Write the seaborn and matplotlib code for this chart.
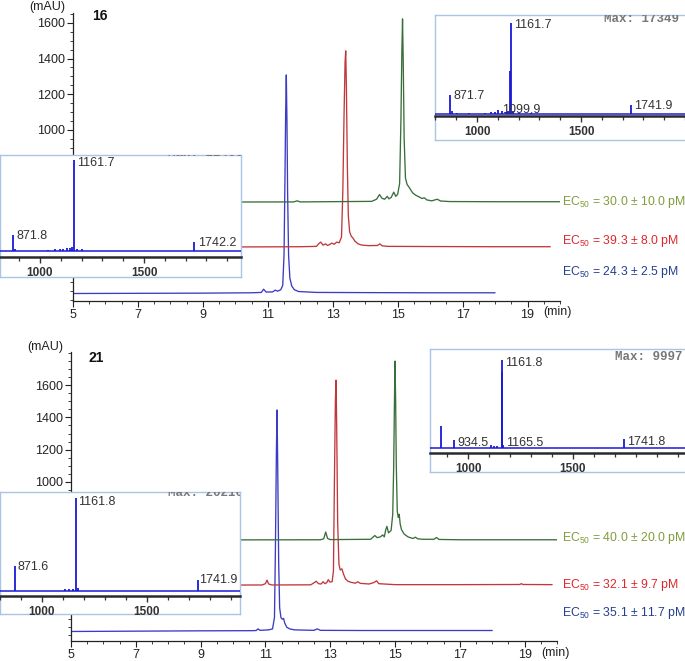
import matplotlib
matplotlib.use('Agg')
import matplotlib.pyplot as plt
import seaborn as sns
from matplotlib.ticker import MultipleLocator, FixedLocator, FuncFormatter

sns.set_theme(style='ticks')
plt.rcParams['font.family'] = ['Liberation Sans', 'DejaVu Sans']
plt.rcParams['mathtext.default'] = 'regular'

W, H = 685, 661

# ---------------- data: HPLC traces (time in min, absorbance in mAU) ----------------
# Panel 16
t16_blue = [5.0, 7.0, 9.0, 10.5, 10.8, 10.87, 10.95, 11.15, 11.23, 11.3, 11.4, 11.46, 11.5, 11.53, 11.55,
            11.57, 11.59, 11.61, 11.64, 11.68, 11.74, 11.82, 11.95, 12.5, 14.0, 16.0, 18.0]
a16_blue = [84, 85, 86, 88, 90, 108, 92, 93, 103, 97, 105, 130, 300, 750, 1100,
            1308, 1050, 650, 300, 170, 125, 105, 95, 90, 89, 88, 88]
t16_red = [5.0, 9.0, 12.0, 12.5, 12.58, 12.63, 12.7, 12.78, 12.84, 12.9, 12.97, 13.05, 13.12, 13.2, 13.27,
           13.31, 13.35, 13.38, 13.40, 13.42, 13.45, 13.48, 13.52, 13.57, 13.62, 13.68, 13.78, 13.9, 14.1,
           14.38, 14.45, 14.52, 14.7, 16.0, 18.0, 19.7]
a16_red = [343, 344, 346, 348, 365, 372, 355, 362, 353, 358, 366, 360, 372, 368, 400,
           650, 1100, 1380, 1443, 1250, 800, 520, 430, 405, 395, 378, 362, 355, 352,
           353, 362, 351, 348, 347, 346, 346]
t16_green = [5.0, 9.0, 11.8, 11.9, 12.0, 14.2, 14.35, 14.44, 14.52, 14.6, 14.68, 14.73, 14.8, 14.88, 14.94,
             15.0, 15.06, 15.1, 15.13, 15.15, 15.17, 15.2, 15.24, 15.29, 15.34, 15.4, 15.46, 15.55, 15.65,
             15.75, 15.82, 15.9, 16.05, 16.22, 16.32, 16.6, 18.0, 20.0]
a16_green = [596, 596, 597, 603, 597, 600, 612, 638, 617, 612, 628, 614, 622, 652, 628,
             640, 700, 1050, 1450, 1622, 1400, 950, 730, 695, 682, 665, 648, 635, 626,
             616, 620, 608, 603, 612, 602, 599, 598, 598]

# Panel 21
t21_blue = [5.0, 7.0, 9.0, 10.6, 10.72, 10.77, 10.84, 11.1, 11.22, 11.28, 11.31, 11.34, 11.36, 11.38, 11.41,
            11.44, 11.48, 11.52, 11.56, 11.6, 11.66, 11.75, 11.9, 12.5, 12.6, 12.7, 14.0, 16.0, 18.0]
a21_blue = [74, 76, 78, 79, 80, 90, 81, 84, 90, 160, 600, 1200, 1446, 1100, 500,
            220, 160, 150, 155, 125, 100, 90, 84, 81, 90, 81, 80, 80, 80]
t21_red = [5.0, 9.0, 10.9, 11.0, 11.05, 11.1, 11.2, 12.4, 12.52, 12.57, 12.64, 12.72, 12.78, 12.84, 12.9,
           12.94, 12.99, 13.06, 13.1, 13.13, 13.16, 13.18, 13.2, 13.23, 13.27, 13.31, 13.36, 13.41, 13.47,
           13.55, 13.65, 13.78, 13.85, 13.93, 14.2, 14.36, 14.43, 14.5, 15.0, 17.0, 18.85, 18.9, 18.95, 19.85]
a21_red = [360, 361, 362, 370, 392, 368, 362, 363, 378, 385, 370, 368, 382, 370, 378,
           395, 380, 382, 450, 1000, 1500, 1631, 1350, 750, 490, 455, 462, 430, 400,
           385, 378, 373, 382, 372, 368, 378, 388, 370, 364, 364, 365, 370, 365, 364]
t21_green = [5.0, 9.0, 12.7, 12.8, 12.86, 12.92, 13.0, 14.25, 14.33, 14.38, 14.45, 14.55, 14.62, 14.67, 14.71,
             14.75, 14.8, 14.88, 14.93, 14.96, 14.98, 15.0, 15.02, 15.04, 15.07, 15.1, 15.13, 15.16, 15.2,
             15.28, 15.4, 15.55, 15.63, 15.7, 15.85, 16.2, 16.28, 16.36, 17.0, 20.0]
a21_green = [640, 641, 642, 648, 690, 650, 643, 645, 660, 668, 655, 660, 672, 660, 700,
             725, 685, 700, 800, 1100, 1450, 1749, 1500, 1100, 820, 780, 800, 740, 705,
             678, 660, 650, 658, 648, 645, 645, 656, 644, 642, 642]

ec50_16 = ["EC$_{50}$ = 30.0 ± 10.0 pM", "EC$_{50}$ = 39.3 ± 8.0 pM", "EC$_{50}$ = 24.3 ± 2.5 pM"]
ec50_21 = ["EC$_{50}$ = 40.0 ± 20.0 pM", "EC$_{50}$ = 32.1 ± 9.7 pM", "EC$_{50}$ = 35.1 ± 11.7 pM"]

# ---------------- data: MS insets (m/z, relative intensity %) ----------------
ms16a_mz = [871.7, 880, 905, 960, 1040, 1065, 1085, 1099.9, 1120, 1140, 1150, 1160.9, 1161.7, 1172, 1200, 1260, 1741.9]
ms16a_int = [21, 3, 1, 1, 1.5, 2, 2.5, 4.4, 3, 2.5, 3, 47, 100, 3, 1.5, 1, 10]
ms16a_lab = ["871.7", "1099.9", "1161.7", "1741.9"]
ms16a_max = "Max: 17349"

ms16b_mz = [871.8, 878, 1040, 1070, 1095, 1110, 1130, 1145, 1155, 1161.7, 1180, 1200, 1742.2]
ms16b_int = [17.6, 2, 1.5, 2, 2.5, 2.5, 3.5, 3, 4, 100, 2.5, 2, 10]
ms16b_lab = ["871.8", "1161.7", "1742.2"]
ms16b_max = "Max: 12406"

ms21a_mz = [871.5, 934.5, 1110, 1125, 1140, 1161.0, 1161.8, 1165.5, 1741.8]
ms21a_int = [25, 9, 3, 2, 2.5, 86, 100, 3, 10]
ms21a_lab = ["934.5", "1161.8", "1165.5", "1741.8"]
ms21a_max = "Max: 9997"

ms21b_mz = [871.6, 1110, 1130, 1150, 1161.8, 1170, 1741.9]
ms21b_int = [27, 2, 2.5, 2, 100, 3, 12]
ms21b_lab = ["871.6", "1161.8", "1741.9"]
ms21b_max = "Max: 20210"

# ---------------- styling ----------------
C_BLUE, C_RED, C_GREEN = '#3b3bc4', '#c0383c', '#3a6e3a'
T_BLUE, T_RED, T_GREEN = '#22408f', '#e0262b', '#7f9d3a'
MS_BLUE = '#1a1ad8'
FRAME = '#aac4e6'


def rect(l, t, r, b):
    return [l / W, 1 - b / H, (r - l) / W, (b - t) / H]


fig = plt.figure(figsize=(W / 100, H / 100), dpi=100)


def ylab(v, pos):
    return f"{int(round(v))}" if 1000 <= v <= 1600 else ""


def main_panel(pos, ylim, traces):
    ax = fig.add_axes(rect(*pos), zorder=1)
    ax.patch.set_alpha(0)
    for t, a, c in traces:
        sns.lineplot(x=t, y=a, ax=ax, color=c, linewidth=0.95, estimator=None, sort=False, legend=False)
    ax.set_xlim(5, 20)
    ax.set_ylim(*ylim)
    ax.set_xlabel('')
    ax.set_ylabel('')
    ax.spines[['top', 'right']].set_visible(False)
    for s in ('left', 'bottom'):
        ax.spines[s].set_linewidth(0.9)
        ax.spines[s].set_color('#222222')
    ax.set_xticks(list(range(5, 20, 2)))
    ax.xaxis.set_minor_locator(MultipleLocator(0.5))
    ax.yaxis.set_major_locator(FixedLocator(list(range(0, 1800, 200))))
    ax.yaxis.set_major_formatter(FuncFormatter(ylab))
    ax.yaxis.set_minor_locator(MultipleLocator(50))
    ax.tick_params(which='major', length=4, width=0.8, color='#222222', labelsize=9,
                   labelcolor='#222222', pad=2.0, direction='out')
    ax.tick_params(axis='x', which='major', pad=1.5)
    ax.tick_params(which='minor', length=2, width=0.6, color='#222222', direction='out')
    return ax


ax16 = main_panel((73, 13, 560, 301), (42, 1655),
                  [(t16_blue, a16_blue, C_BLUE), (t16_red, a16_red, C_RED), (t16_green, a16_green, C_GREEN)])
ax21 = main_panel((71, 352, 557, 641), (15, 1805),
                  [(t21_blue, a21_blue, C_BLUE), (t21_red, a21_red, C_RED), (t21_green, a21_green, C_GREEN)])


def ftext(x, y, s, **kw):
    return fig.text(x / W, 1 - y / H, s, **kw)


ftext(65, 7, "(mAU)", ha='right', va='center', fontsize=9, color='#222222')
ftext(63, 347, "(mAU)", ha='right', va='center', fontsize=9, color='#222222')
ftext(100, 16, "16", ha='center', va='center', fontsize=10, fontweight='bold', color='#111111')
ftext(96, 358, "21", ha='center', va='center', fontsize=10, fontweight='bold', color='#111111')
ftext(543, 312, "(min)", ha='left', va='center', fontsize=9, color='#222222')
ftext(541, 653, "(min)", ha='left', va='center', fontsize=9, color='#222222')

for (y, s, c) in zip([202, 241, 272], ec50_16, [T_GREEN, T_RED, T_BLUE]):
    ftext(562, y, s, ha='left', va='center', fontsize=8.8, color=c)
for (y, s, c) in zip([538, 585, 613], ec50_21, [T_GREEN, T_RED, T_BLUE]):
    ftext(562, y, s, ha='left', va='center', fontsize=8.8, color=c)


def ms_inset(frame, inner, xlim, ylim, mz, inten, labels, label_pos, maxtext, max_pos):
    fax = fig.add_axes(rect(*frame), zorder=5)
    fax.set_facecolor('white')
    fax.set_xticks([])
    fax.set_yticks([])
    for sp in fax.spines.values():
        sp.set_color(FRAME)
        sp.set_linewidth(1.0)
    iax = fig.add_axes(rect(*inner), zorder=6)
    iax.patch.set_alpha(0)
    iax.axhline(0, color=MS_BLUE, lw=1.1)
    iax.vlines(mz, 0, inten, color=MS_BLUE, lw=1.3)
    iax.set_xlim(*xlim)
    iax.set_ylim(*ylim)
    for s in ('top', 'right', 'left'):
        iax.spines[s].set_visible(False)
    iax.spines['bottom'].set_color('#2a2a2a')
    iax.spines['bottom'].set_linewidth(1.8)
    iax.set_yticks([])
    iax.xaxis.set_major_locator(FixedLocator([1000, 1500]))
    iax.xaxis.set_minor_locator(MultipleLocator(100))
    iax.tick_params(which='major', length=4, width=1, color='#333333', pad=3.5,
                    labelsize=8.5, labelcolor='#333333', direction='out')
    iax.tick_params(which='minor', length=3, width=0.9, color='#333333', direction='out')
    for lab in iax.get_xticklabels():
        lab.set_fontweight('bold')
    for s, (x, y) in zip(labels, label_pos):
        iax.text(x, y, s, ha='left', va='center', fontsize=9, color='#333333')
    iax.text(max_pos[0], max_pos[1], maxtext, ha='left', va='center', fontsize=9,
             family=['Liberation Mono', 'DejaVu Sans Mono'], fontweight='bold', color='#777777', clip_on=True)
    return iax


# panel 16, upper-right inset
ms_inset((435, 15, 700, 140), (435, 15, 700, 116), (798, 2072), (-2.2, 108.8),
         ms16a_mz, ms16a_int, ms16a_lab,
         [(885, 20), (1120, 4.4), (1178, 98), (1755, 8.8)], ms16a_max, (1610, 104))
# panel 16, left inset
ms_inset((0, 155, 241, 277), (0, 155, 241, 257), (808, 1966), (-6.6, 105.5),
         ms16b_mz, ms16b_int, ms16b_lab,
         [(885, 16.5), (1178, 97), (1760, 8.8)], ms16b_max, (1615, 107.7))
# panel 21, upper-right inset
ms_inset((430, 349, 700, 472), (430, 349, 700, 453), (819, 2105), (-5.7, 112.5),
         ms21a_mz, ms21a_int, ms21a_lab,
         [(948, 5.7), (1176, 97), (1180, 5.7), (1757, 6.8)], ms21a_max, (1700, 103))
# panel 21, left inset
ms_inset((0, 492, 240, 614), (0, 492, 240, 596), (800, 1943), (-5.4, 106.5),
         ms21b_mz, ms21b_int, ms21b_lab,
         [(881, 25.8), (1171, 95.7), (1748, 11.8)], ms21b_max, (1600, 105.4))

fig.savefig('out.png', dpi=100)
